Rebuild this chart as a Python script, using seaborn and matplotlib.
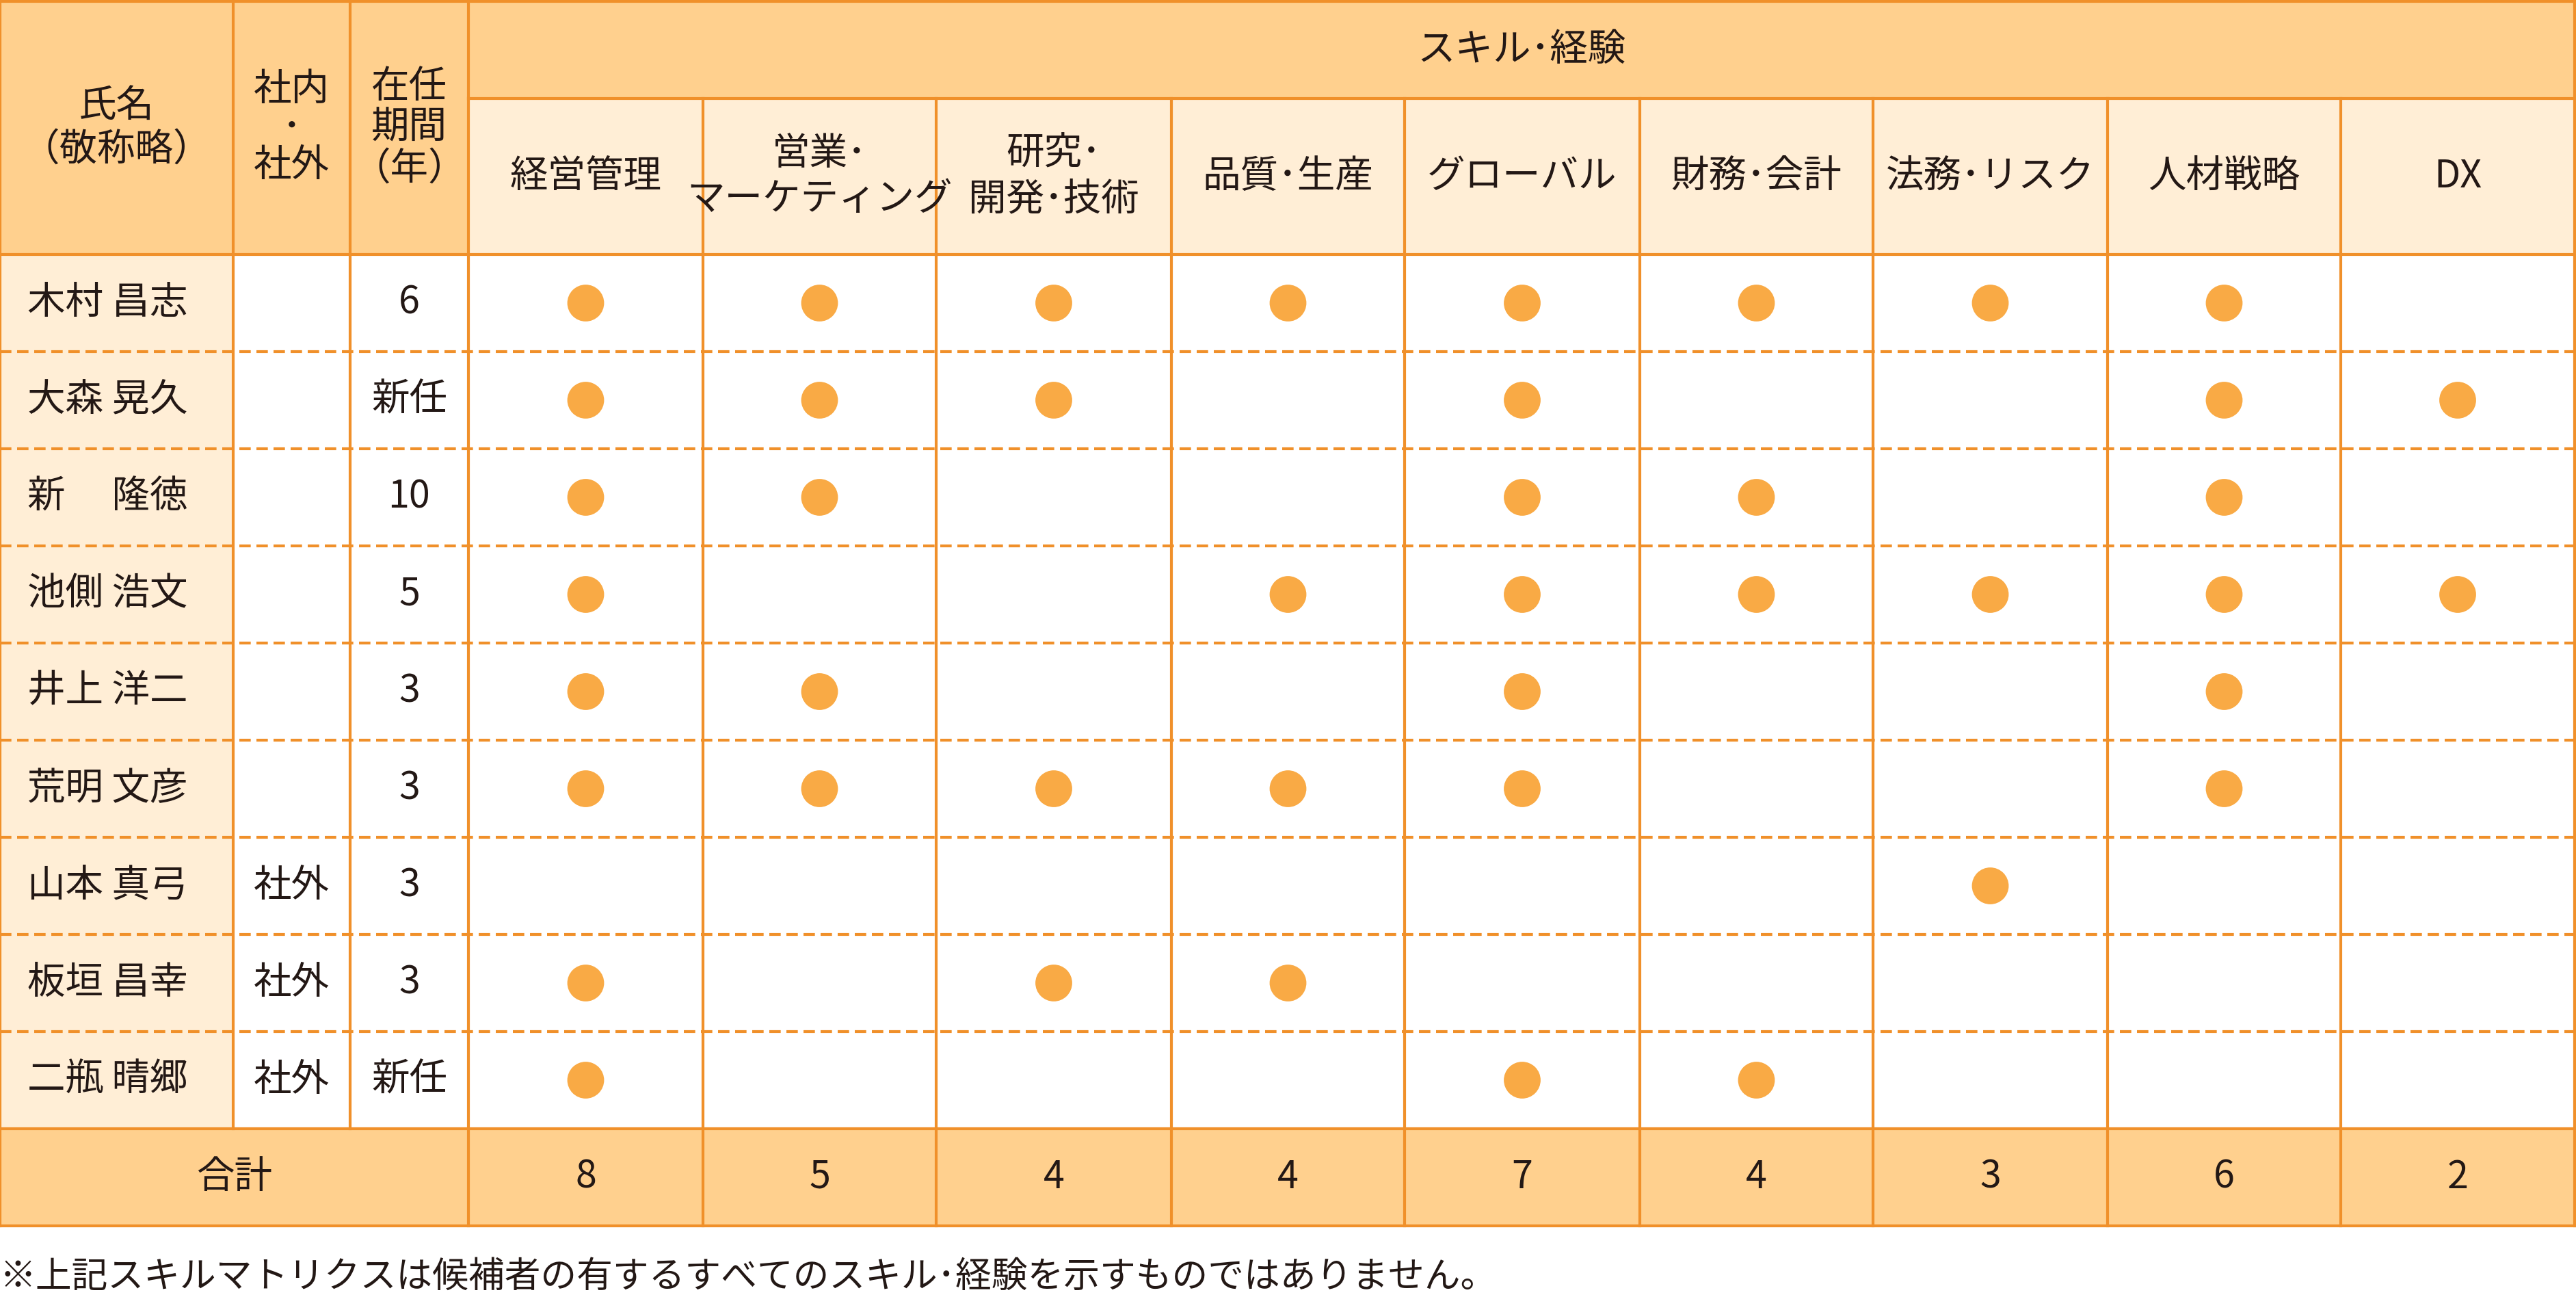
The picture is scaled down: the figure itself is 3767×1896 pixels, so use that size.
import matplotlib
matplotlib.use('Agg')
import pandas as pd
import seaborn as sns
from matplotlib import pyplot as plt
from matplotlib.patches import Rectangle

plt.rcParams['font.family'] = 'Noto Sans CJK JP'

names = ['木村 昌志', '大森 晃久', '新　 隆徳', '池側 浩文', '井上 洋二',
         '荒明 文彦', '山本 真弓', '板垣 昌幸', '二瓶 晴郷']
affil = ['', '', '', '', '', '', '社外', '社外', '社外']
tenure = ['6', '新任', '10', '5', '3', '3', '3', '3', '新任']
skills = ['経営管理', '営業･\nマーケティング', '研究･\n開発･技術', '品質･生産',
          'グローバル', '財務･会計', '法務･リスク', '人材戦略', 'DX']
marks = [
    [1, 1, 1, 1, 1, 1, 1, 1, 0],
    [1, 1, 1, 0, 1, 0, 0, 1, 1],
    [1, 1, 0, 0, 1, 1, 0, 1, 0],
    [1, 0, 0, 1, 1, 1, 1, 1, 1],
    [1, 1, 0, 0, 1, 0, 0, 1, 0],
    [1, 1, 1, 1, 1, 0, 0, 1, 0],
    [0, 0, 0, 0, 0, 0, 1, 0, 0],
    [1, 0, 1, 1, 0, 0, 0, 0, 0],
    [1, 0, 0, 0, 1, 1, 0, 0, 0],
]
totals = ['8', '5', '4', '4', '7', '4', '3', '6', '2']

HEAD = '#FFD08E'
LIGHT = '#FFEED6'
LINE = '#F0902A'
DOT = '#F9AA45'
TXT = '#231815'

W, H = 3767, 1896
fig = plt.figure(figsize=(W / 100, H / 100), dpi=100)
ax = fig.add_axes([0, 0, 1, 1])

xs = [0, 341, 512, 685, 1028, 1369, 1713, 2054, 2398, 2739, 3082, 3423, 3765]
top, mid, hb = 2, 144, 372
rh = 142
ys = [hb + i * rh for i in range(len(names) + 1)]
tb = ys[-1] + rh
fs = 40

def cell(x0, y0, x1, y1, fc):
    ax.add_patch(Rectangle((x0, y0), x1 - x0, y1 - y0, facecolor=fc, edgecolor='none', zorder=0))

# fills
cell(0, top, xs[3], hb, HEAD)
cell(xs[3], top, xs[-1], mid, HEAD)
cell(xs[3], mid, xs[-1], hb, LIGHT)
cell(0, hb, xs[1], ys[-1], LIGHT)
cell(0, ys[-1], xs[-1], tb, HEAD)

lw = 3
for y in [top, hb, ys[-1], tb]:
    ax.plot([0, xs[-1]], [y, y], color=LINE, lw=lw)
ax.plot([xs[3], xs[-1]], [mid, mid], color=LINE, lw=lw)
for i, x in enumerate(xs):
    if i in (0, 3, len(xs) - 1):
        ax.plot([x, x], [top, tb], color=LINE, lw=lw)
    elif i < 3:
        ax.plot([x, x], [top, ys[-1]], color=LINE, lw=lw)
    else:
        ax.plot([x, x], [mid, tb], color=LINE, lw=lw)
for y in ys[1:-1]:
    ax.plot([0, xs[-1]], [y, y], color=LINE, lw=lw, ls=(0, (4, 2)))

# header text
ax.text(xs[1] / 2, (top + hb) / 2, '氏名\n（敬称略）', ha='center', va='center', fontsize=fs, color=TXT, linespacing=1.15)
ax.text((xs[1] + xs[2]) / 2, (top + hb) / 2, '社内\n･\n社外', ha='center', va='center', fontsize=fs, color=TXT, linespacing=0.95)
ax.text((xs[2] + xs[3]) / 2, (top + hb) / 2, '在任\n期間\n（年）', ha='center', va='center', fontsize=fs, color=TXT, linespacing=1.05)
ax.text((xs[3] + xs[-1]) / 2, (top + mid) / 2, 'スキル･経験', ha='center', va='center', fontsize=fs, color=TXT)
for j, s in enumerate(skills):
    ax.text((xs[3 + j] + xs[4 + j]) / 2, (mid + hb) / 2, s, ha='center', va='center',
            fontsize=fs, color=TXT, linespacing=1.2)

for i in range(len(names)):
    yc = ys[i] + rh / 2
    ax.text(40, yc, names[i], ha='left', va='center', fontsize=fs, color=TXT)
    ax.text((xs[1] + xs[2]) / 2, yc, affil[i], ha='center', va='center', fontsize=fs, color=TXT)
    ax.text((xs[2] + xs[3]) / 2, yc, tenure[i], ha='center', va='center', fontsize=fs, color=TXT)

rows = []
for i, r in enumerate(marks):
    for j, m in enumerate(r):
        if m:
            rows.append({'x': (xs[3 + j] + xs[4 + j]) / 2, 'y': ys[i] + rh / 2})
df = pd.DataFrame(rows)
sns.scatterplot(data=df, x='x', y='y', ax=ax, color=DOT, s=1500, edgecolor='none', zorder=3)
ax.set_xlim(0, W)
ax.set_ylim(H, 0)
ax.axis('off')

yc = (ys[-1] + tb) / 2
ax.text(xs[3] / 2, yc, '合計', ha='center', va='center', fontsize=fs, color=TXT)
for j, t in enumerate(totals):
    ax.text((xs[3 + j] + xs[4 + j]) / 2, yc, t, ha='center', va='center', fontsize=fs, color=TXT)

ax.text(0, 1866, '※上記スキルマトリクスは候補者の有するすべてのスキル･経験を示すものではありません。',
        ha='left', va='center', fontsize=38, color=TXT)

fig.savefig('out.png', dpi=100, facecolor='white')
